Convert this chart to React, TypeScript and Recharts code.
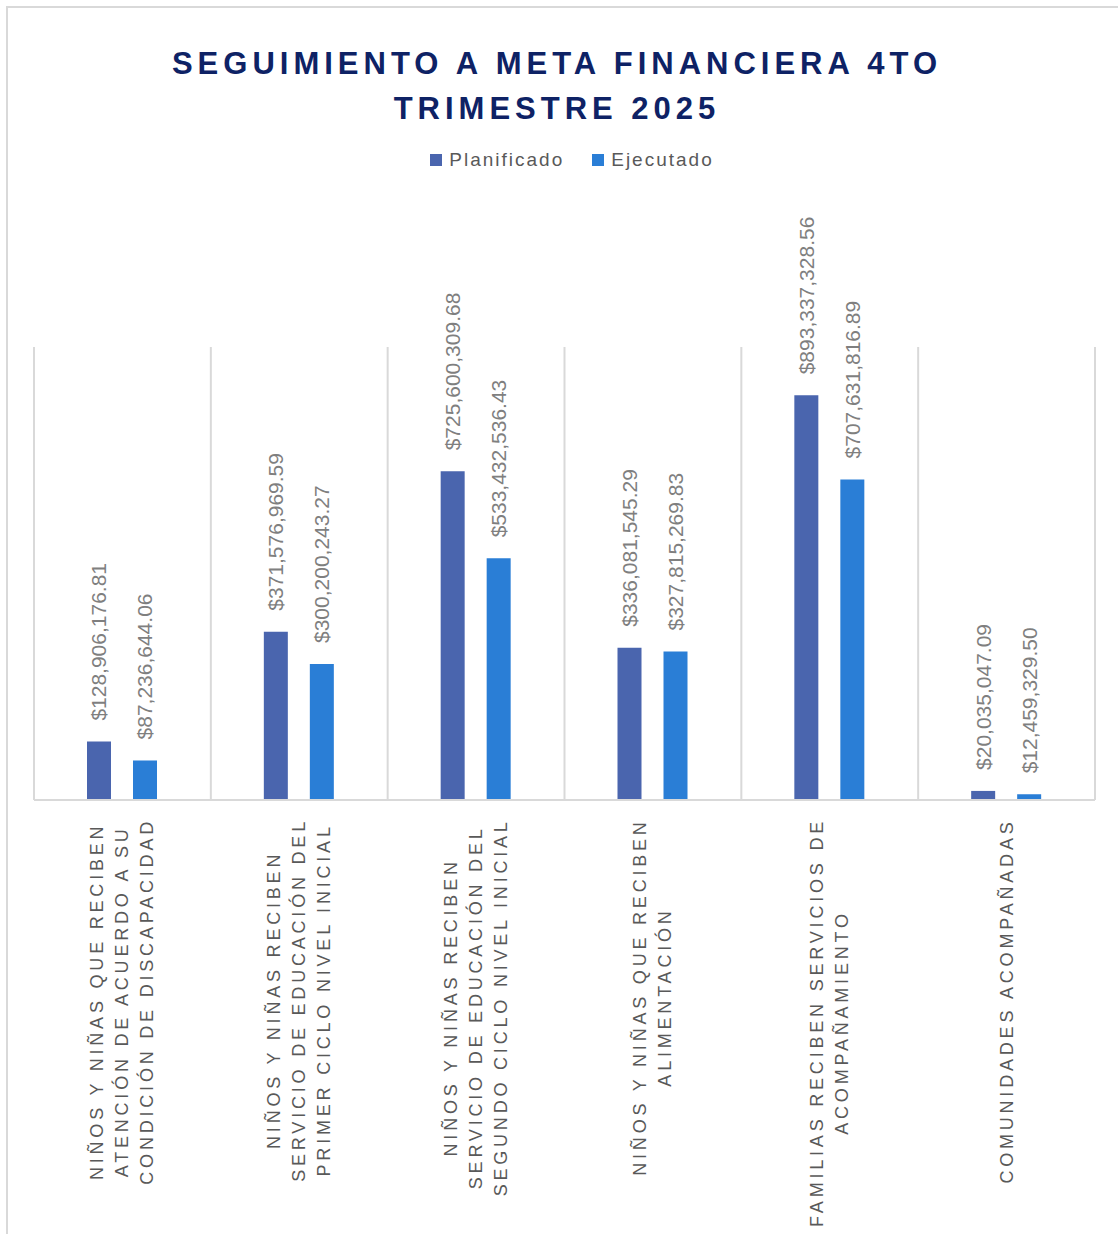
import React from "react";
import { BarChart, Bar, XAxis, YAxis, CartesianGrid, LabelList } from "recharts";

const titleLines = ["SEGUIMIENTO A META FINANCIERA 4TO", "TRIMESTRE 2025"];

const categories = [
  "NIÑOS Y NIÑAS QUE RECIBEN ATENCIÓN DE ACUERDO A SU CONDICIÓN DE DISCAPACIDAD",
  "NIÑOS Y NIÑAS RECIBEN SERVICIO DE EDUCACIÓN DEL PRIMER CICLO NIVEL INICIAL",
  "NIÑOS Y NIÑAS RECIBEN SERVICIO DE EDUCACIÓN DEL SEGUNDO CICLO NIVEL INICIAL",
  "NIÑOS Y NIÑAS QUE RECIBEN ALIMENTACIÓN",
  "FAMILIAS RECIBEN SERVICIOS DE ACOMPAÑAMIENTO",
  "COMUNIDADES ACOMPAÑADAS",
];

const categoryLines = [
  ["NIÑOS Y NIÑAS QUE RECIBEN", "ATENCIÓN DE ACUERDO A SU", "CONDICIÓN DE DISCAPACIDAD"],
  ["NIÑOS Y NIÑAS RECIBEN", "SERVICIO DE EDUCACIÓN DEL", "PRIMER CICLO NIVEL INICIAL"],
  ["NIÑOS Y NIÑAS RECIBEN", "SERVICIO DE EDUCACIÓN DEL", "SEGUNDO CICLO NIVEL INICIAL"],
  ["NIÑOS Y NIÑAS QUE RECIBEN", "ALIMENTACIÓN"],
  ["FAMILIAS RECIBEN SERVICIOS DE", "ACOMPAÑAMIENTO"],
  ["COMUNIDADES ACOMPAÑADAS"],
];

const planificado = [128906176.81, 371576969.59, 725600309.68, 336081545.29, 893337328.56, 20035047.09];
const ejecutado = [87236644.06, 300200243.27, 533432536.43, 327815269.83, 707631816.89, 12459329.5];

const seriesNames = ["Planificado", "Ejecutado"];
const seriesColors = ["#4A65AE", "#2A7ED6"];

const yDomain = [0, 1000000000];

const data = categories.map((name, i) => ({
  name,
  plan: planificado[i],
  ejec: ejecutado[i],
}));

const FONT = "'Liberation Sans', Arial, sans-serif";
const CAT_FONT_SIZE = 18;
const CAT_LETTER = 3.8;
const CAT_LINE_PITCH = 25;

let measureCtx: CanvasRenderingContext2D | null = null;
function textWidth(s: string): number {
  if (!measureCtx) {
    const c = document.createElement("canvas");
    measureCtx = c.getContext("2d");
  }
  if (!measureCtx) return s.length * 11;
  measureCtx.font = `${CAT_FONT_SIZE}px 'Liberation Sans'`;
  return measureCtx.measureText(s).width + CAT_LETTER * s.length;
}

const fmt = (v: number) =>
  "$" + Number(v).toLocaleString("en-US", { minimumFractionDigits: 2, maximumFractionDigits: 2 });

const renderValueLabel = (props: any) => {
  const { x, y, width, value } = props;
  const cx = Number(x) + Number(width) / 2;
  const ty = Number(y) - 21;
  return (
    <text
      x={cx}
      y={ty}
      transform={`rotate(-90 ${cx} ${ty})`}
      textAnchor="start"
      dominantBaseline="central"
      fill="#7F7F7F"
      fontSize={21}
      fontFamily={FONT}
    >
      {fmt(value)}
    </text>
  );
};

const CategoryTick = (props: any) => {
  const { x, y, payload } = props;
  const idx = categories.indexOf(payload.value);
  const lines = idx >= 0 ? categoryLines[idx] : [String(payload.value)];
  const maxLen = Math.max(...lines.map(textWidth));
  const top = Number(y) + 18;
  const cy = top + maxLen / 2;
  const n = lines.length;
  return (
    <g>
      {lines.map((line, i) => {
        const lx = Number(x) + (i - (n - 1) / 2) * CAT_LINE_PITCH;
        return (
          <text
            key={i}
            x={lx}
            y={cy}
            transform={`rotate(-90 ${lx} ${cy})`}
            textAnchor="middle"
            dominantBaseline="central"
            fill="#595959"
            fontSize={CAT_FONT_SIZE}
            letterSpacing={CAT_LETTER}
            fontFamily={FONT}
          >
            {line}
          </text>
        );
      })}
    </g>
  );
};

// vertical gridlines at category boundaries, derived from the plot offset
const boundaryGenerator = (args: any) => {
  const off = args.offset;
  const n = categories.length;
  const out: number[] = [];
  for (let i = 0; i <= n; i++) out.push(off.left + (i * off.width) / n);
  return out;
};

export default function App() {
  return (
    <div
      style={{
        position: "absolute",
        left: 0,
        top: 0,
        width: 1118,
        height: 1234,
        overflow: "hidden",
        background: "#ffffff",
      }}
    >
      <div
        style={{
          position: "absolute",
          left: 6,
          top: 6,
          width: 2000,
          height: 2000,
          borderTop: "2px solid #D9D9D9",
          borderLeft: "2px solid #D9D9D9",
        }}
      />
      <div
        style={{
          position: "absolute",
          left: 0,
          top: 41,
          width: 1114,
          textAlign: "center",
          fontFamily: FONT,
          fontWeight: 700,
          fontSize: 31,
          lineHeight: "45px",
          letterSpacing: 5,
          color: "#0E2265",
        }}
      >
        {titleLines.map((t, i) => (
          <div key={i}>{t}</div>
        ))}
      </div>
      <div
        style={{
          position: "absolute",
          left: 0,
          top: 148,
          width: 1144,
          height: 24,
          display: "flex",
          justifyContent: "center",
          alignItems: "center",
          gap: 28,
          fontFamily: FONT,
          fontSize: 19,
          letterSpacing: 2,
          color: "#595959",
        }}
      >
        {seriesNames.map((n, i) => (
          <div key={n} style={{ display: "flex", alignItems: "center", gap: 7 }}>
            <span style={{ display: "inline-block", width: 12, height: 12, background: seriesColors[i] }} />
            <span>{n}</span>
          </div>
        ))}
      </div>
      <div style={{ position: "absolute", left: 0, top: 0 }}>
        <BarChart
          width={1118}
          height={1234}
          data={data}
          margin={{ top: 347, right: 23, left: 34, bottom: 14 }}
          barGap={22}
          barCategoryGap="30%"
        >
          <CartesianGrid
            xAxisId="cat"
            horizontal={false}
            vertical={true}
            stroke="#D9D9D9"
            strokeWidth={2}
            verticalCoordinatesGenerator={boundaryGenerator}
          />
          <XAxis
            xAxisId="cat"
            dataKey="name"
            type="category"
            interval={0}
            height={420}
            tickLine={false}
            tickSize={0}
            tickMargin={0}
            axisLine={{ stroke: "#D9D9D9", strokeWidth: 2 }}
            tick={<CategoryTick />}
          />
          <YAxis domain={yDomain} hide allowDataOverflow />
          <Bar xAxisId="cat" dataKey="plan" name={seriesNames[0]} fill={seriesColors[0]} barSize={24} isAnimationActive={false}>
            <LabelList dataKey="plan" content={renderValueLabel} />
          </Bar>
          <Bar xAxisId="cat" dataKey="ejec" name={seriesNames[1]} fill={seriesColors[1]} barSize={24} isAnimationActive={false}>
            <LabelList dataKey="ejec" content={renderValueLabel} />
          </Bar>
        </BarChart>
      </div>
    </div>
  );
}
